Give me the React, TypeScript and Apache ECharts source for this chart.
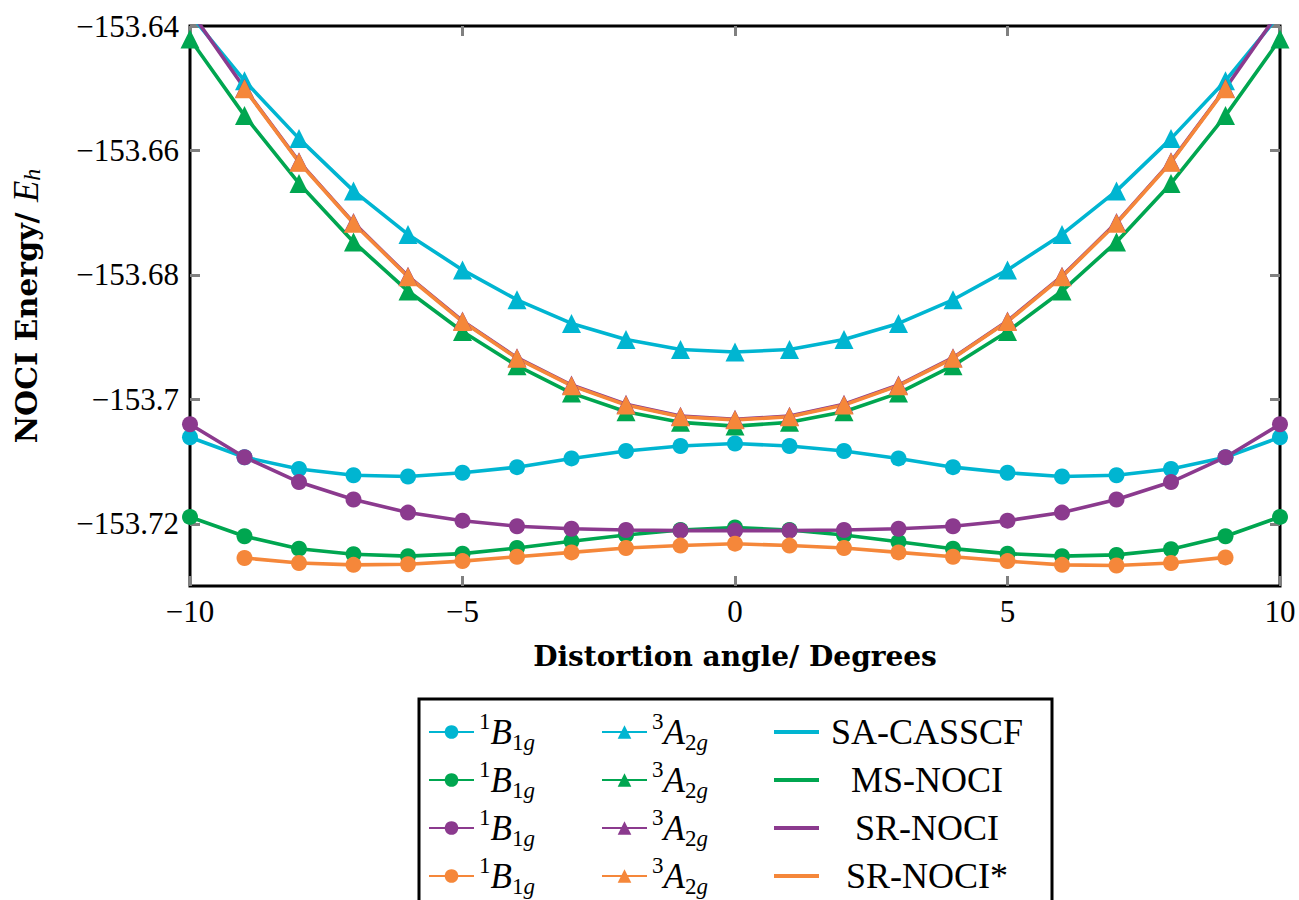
import React, { useEffect, useRef } from 'react';
import * as echarts from 'echarts';

// ---------- data ----------
const angles = [-10, -9, -8, -7, -6, -5, -4, -3, -2, -1, 0, 1, 2, 3, 4, 5, 6, 7, 8, 9, 10];

const xTicks = [-10, -5, 0, 5, 10];
const yTicks = [-153.72, -153.7, -153.68, -153.66, -153.64];

// singlet 1B1g (circles)
const saSinglet = [-153.7061, -153.7093, -153.7112, -153.7122, -153.7124, -153.7118, -153.7109, -153.7095, -153.7083, -153.7075, -153.7071, -153.7075, -153.7083, -153.7095, -153.7109, -153.7118, -153.7124, -153.7122, -153.7112, -153.7093, -153.7061];
const msSinglet = [-153.7189, -153.7220, -153.7240, -153.7249, -153.7252, -153.7248, -153.7239, -153.7228, -153.7218, -153.7210, -153.7206, -153.7210, -153.7218, -153.7229, -153.7240, -153.7248, -153.7252, -153.7250, -153.7241, -153.7220, -153.7189];
const srSinglet = [-153.7040, -153.7093, -153.7133, -153.7161, -153.7182, -153.7195, -153.7204, -153.7208, -153.7210, -153.7211, -153.7211, -153.7211, -153.7210, -153.7208, -153.7204, -153.7195, -153.7182, -153.7161, -153.7133, -153.7093, -153.7040];
const srStarSinglet = [null, -153.7255, -153.7263, -153.7266, -153.7265, -153.7260, -153.7253, -153.7246, -153.7239, -153.7235, -153.7232, -153.7235, -153.7239, -153.7246, -153.7253, -153.7260, -153.7266, -153.7267, -153.7263, -153.7254, null];

// triplet 3A2g (triangles)
const saTriplet = [-153.6381, -153.6488, -153.6581, -153.6665, -153.6735, -153.6792, -153.6840, -153.6878, -153.6904, -153.6920, -153.6924, -153.6920, -153.6904, -153.6878, -153.6840, -153.6792, -153.6735, -153.6665, -153.6581, -153.6488, -153.6381];
const msTriplet = [-153.6421, -153.6544, -153.6653, -153.6747, -153.6826, -153.6891, -153.6946, -153.6990, -153.7020, -153.7037, -153.7043, -153.7037, -153.7020, -153.6990, -153.6946, -153.6891, -153.6826, -153.6747, -153.6653, -153.6544, -153.6421];
const srTriplet = [-153.6375, -153.6500, -153.6618, -153.6716, -153.6802, -153.6874, -153.6933, -153.6977, -153.7008, -153.7027, -153.7032, -153.7027, -153.7008, -153.6977, -153.6933, -153.6874, -153.6802, -153.6716, -153.6618, -153.6500, -153.6375];
const srStarTriplet = [null, -153.6501, -153.6619, -153.6717, -153.6803, -153.6875, -153.6934, -153.6978, -153.7009, -153.7028, -153.7033, -153.7028, -153.7009, -153.6978, -153.6934, -153.6875, -153.6803, -153.6717, -153.6619, -153.6501, null];

const methods = ['SA-CASSCF', 'MS-NOCI', 'SR-NOCI', 'SR-NOCI*'];
const singlets = [saSinglet, msSinglet, srSinglet, srStarSinglet];
const triplets = [saTriplet, msTriplet, srTriplet, srStarTriplet];
const colors = ['#00b5d1', '#00a650', '#8b3a8e', '#f5873a'];

const FONT = '"Liberation Serif", "DejaVu Serif", serif';
const TITLE_FONT = '"DejaVu Serif", "Liberation Serif", serif';

function toPairs(vals: (number | null)[]) {
  const out: [number, number][] = [];
  angles.forEach((a, i) => {
    const v = vals[i];
    if (v !== null && v !== undefined) out.push([a, v]);
  });
  return out;
}

function fmtMinus(v: number) {
  const r = Math.round(v * 100) / 100;
  return String(r).replace('-', '\u2212');
}

const tickStyle = { color: '#808080', width: 3 };

export default function App() {
  const ref = useRef<HTMLDivElement>(null);

  useEffect(() => {
    if (!ref.current) return;
    const chart = echarts.init(ref.current, undefined, { renderer: 'svg' });

    const series: any[] = [];
    singlets.forEach((vals, i) => {
      series.push({
        type: 'line',
        name: 's' + i,
        data: toPairs(vals),
        symbol: 'circle',
        symbolSize: 16,
        showAllSymbol: true,
        lineStyle: { width: 3.6, color: colors[i] },
        itemStyle: { color: colors[i] },
        clip: true,
        silent: true,
      });
    });
    triplets.forEach((vals, i) => {
      series.push({
        type: 'line',
        name: 't' + i,
        data: toPairs(vals),
        symbol: 'triangle',
        symbolSize: 19,
        showAllSymbol: true,
        lineStyle: { width: 3.6, color: colors[i] },
        itemStyle: { color: colors[i] },
        clip: true,
        silent: true,
      });
    });
    methods.forEach((m, i) => {
      series.push({
        type: 'line',
        name: m,
        data: [],
        symbol: 'none',
        lineStyle: { width: 3.6, color: colors[i] },
        itemStyle: { color: colors[i] },
        silent: true,
      });
    });

    const mathRich = {
      it: { fontFamily: FONT, fontStyle: 'italic', fontSize: 35, lineHeight: 44, color: '#000' },
      sup: { fontFamily: FONT, fontSize: 23, lineHeight: 22, verticalAlign: 'top', color: '#000' },
      sub: { fontFamily: FONT, fontSize: 23, lineHeight: 22, verticalAlign: 'bottom', color: '#000' },
      subi: { fontFamily: FONT, fontSize: 23, lineHeight: 22, fontStyle: 'italic', verticalAlign: 'bottom', color: '#000' },
      c: { fontFamily: FONT, fontSize: 36, lineHeight: 44, width: 206, align: 'center', color: '#000' },
    };

    const legendBase = {
      orient: 'vertical',
      top: 710,
      itemWidth: 45,
      itemHeight: 17,
      itemGap: 4,
      selectedMode: false,
      padding: 0,
      textStyle: { fontFamily: FONT, fontSize: 34, lineHeight: 44, color: '#000', rich: mathRich },
    };

    const option: any = {
      animation: false,
      backgroundColor: '#fff',
      grid: {
        left: 189,
        right: 19,
        top: 26,
        bottom: 314,
        show: true,
        borderColor: '#000',
        borderWidth: 3,
        backgroundColor: 'transparent',
      },
      xAxis: [
        {
          type: 'value',
          min: -10,
          max: 10,
          interval: 5,
          position: 'bottom',
          name: 'Distortion angle/ Degrees',
          nameLocation: 'middle',
          nameGap: 56,
          nameTextStyle: { fontFamily: TITLE_FONT, fontSize: 28, fontWeight: 'bold', color: '#000' },
          axisLine: { show: false, onZero: false },
          splitLine: { show: false },
          axisTick: { show: true, inside: true, length: 10, lineStyle: tickStyle, customValues: xTicks },
          axisLabel: {
            fontFamily: FONT,
            fontSize: 31,
            color: '#000',
            margin: 10,
            customValues: xTicks,
            formatter: (v: number) => String(v).replace('-', '\u2212'),
          },
        },
        {
          type: 'value',
          min: -10,
          max: 10,
          interval: 5,
          position: 'top',
          axisLine: { show: false, onZero: false },
          splitLine: { show: false },
          axisLabel: { show: false },
          axisTick: { show: true, inside: true, length: 10, lineStyle: tickStyle, customValues: xTicks },
        },
      ],
      yAxis: [
        {
          type: 'value',
          min: -153.73,
          max: -153.64,
          position: 'left',
          name: '{b|NOCI Energy/ }{e|E}{h|h}',
          nameLocation: 'middle',
          nameGap: 146,
          nameRotate: 90,
          nameTextStyle: {
            fontFamily: TITLE_FONT,
            fontSize: 30,
            color: '#000',
            lineHeight: 36,
            rich: {
              b: { fontFamily: TITLE_FONT, fontSize: 30, fontWeight: 'bold', lineHeight: 36, color: '#000' },
              e: { fontFamily: FONT, fontSize: 35, fontStyle: 'italic', lineHeight: 36, color: '#000' },
              h: { fontFamily: FONT, fontSize: 24, fontStyle: 'italic', lineHeight: 20, verticalAlign: 'bottom', color: '#000' },
            },
          },
          axisLine: { show: false, onZero: false },
          splitLine: { show: false },
          axisTick: { show: true, inside: true, length: 10, lineStyle: tickStyle, customValues: yTicks },
          axisLabel: {
            fontFamily: FONT,
            fontSize: 31,
            color: '#000',
            margin: 11,
            customValues: yTicks,
            formatter: (v: number) => fmtMinus(v),
          },
        },
        {
          type: 'value',
          min: -153.73,
          max: -153.64,
          position: 'right',
          axisLine: { show: false, onZero: false },
          splitLine: { show: false },
          axisLabel: { show: false },
          axisTick: { show: true, inside: true, length: 10, lineStyle: tickStyle, customValues: yTicks },
        },
      ],
      legend: [
        {
          ...legendBase,
          left: 428,
          data: ['s0', 's1', 's2', 's3'],
          formatter: () => '{sup|1}{it|B}{sub|1}{subi|g}',
        },
        {
          ...legendBase,
          left: 601,
          data: ['t0', 't1', 't2', 't3'],
          formatter: () => '{sup|3}{it|A}{sub|2}{subi|g}',
        },
        {
          ...legendBase,
          left: 774,
          icon: 'rect',
          itemHeight: 4,
          data: methods,
          formatter: (name: string) => '{c|' + name + '}',
        },
      ],
      graphic: [
        {
          type: 'rect',
          shape: { x: 419, y: 699, width: 633, height: 260 },
          style: { fill: 'none', stroke: '#000', lineWidth: 3 },
          z: 100,
          silent: true,
        },
      ],
      series,
    };

    chart.setOption(option);
    return () => chart.dispose();
  }, []);

  return (
    <div
      ref={ref}
      style={{ position: 'fixed', left: 0, top: 0, width: 1299, height: 900, background: '#fff' }}
    />
  );
}
